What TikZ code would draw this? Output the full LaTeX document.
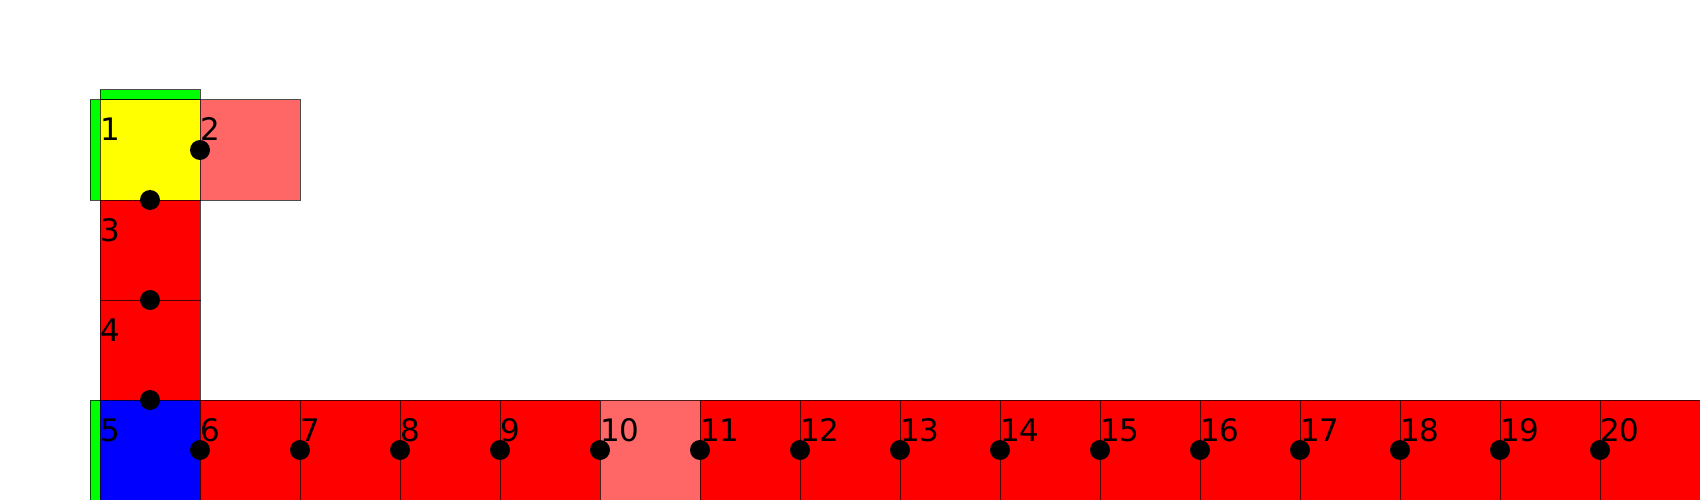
\documentclass[tikz,border=0pt]{standalone}
\usepackage{fontspec}
\setmainfont{DejaVu Sans}
\definecolor{lred}{HTML}{FF6666}
\definecolor{gr}{HTML}{00FF00}
\definecolor{yl}{HTML}{FFFF00}
\definecolor{bl}{HTML}{0000FF}
\definecolor{rd}{HTML}{FF0000}
\begin{document}
\begin{tikzpicture}[x=1pt,y=-1pt,
  cellbox/.style={draw=black,draw opacity=0.7,line width=1pt,inner sep=0,outer sep=0,anchor=north west,minimum width=100pt,minimum height=100pt},
  strip/.style={draw=black,draw opacity=0.7,line width=1pt,fill=gr,inner sep=0,outer sep=0,anchor=north west},
  lab/.style={anchor=base west,inner sep=0,font=\fontsize{31}{31}\selectfont},
  dot/.style={circle,fill=black,minimum size=20pt,inner sep=0}]
\useasboundingbox (0,0) rectangle (1700,500);
% green strips
\node[strip,minimum width=100pt,minimum height=10pt] (g1) at (100,90) {};
\node[strip,minimum width=10pt,minimum height=100pt] (g2) at (90,100) {};
\node[strip,minimum width=10pt,minimum height=100pt] (g3) at (90,400) {};
% vertical column
\node[cellbox,fill=yl] (c1) at (100,100) {};
\node[cellbox,fill=lred] (c2) at (200,100) {};
\node[cellbox,fill=rd] (c3) at (100,200) {};
\node[cellbox,fill=rd] (c4) at (100,300) {};
\node[cellbox,fill=bl] (c5) at (100,400) {};
% bottom row
\foreach \k in {6,...,20}{
  \pgfmathtruncatemacro{\xx}{200+100*(\k-6)}
  \ifnum\k=10 \def\cc{lred}\else\def\cc{rd}\fi
  \node[cellbox,fill=\cc] (c\k) at (\xx,400) {};
}
% dots
\node[dot] (d2) at (c2.west) {};
\node[dot] (d3) at (c3.north) {};
\node[dot] (d4) at (c4.north) {};
\node[dot] (d5) at (c5.north) {};
\foreach \k in {6,...,20}{
  \node[dot] (d\k) at (c\k.west) {};
}
% labels
\node[lab] (l1) at (100,141) {1};
\node[lab] (l2) at (200,141) {2};
\node[lab] (l3) at (100,241) {3};
\node[lab] (l4) at (100,341) {4};
\node[lab] (l5) at (100,441) {5};
\foreach \k in {6,...,20}{
  \pgfmathtruncatemacro{\xx}{200+100*(\k-6)}
  \node[lab] (l\k) at (\xx,441) {\k};
}
\end{tikzpicture}
\end{document}
